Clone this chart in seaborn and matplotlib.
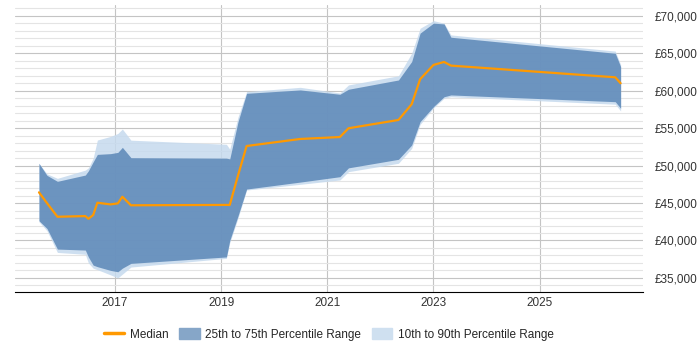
import pandas as pd
import numpy as np
import matplotlib
matplotlib.use("Agg")
import matplotlib.pyplot as plt
import matplotlib.dates as mdates
from matplotlib.ticker import MultipleLocator, FuncFormatter, FixedLocator
from matplotlib.patches import Patch
from matplotlib.lines import Line2D
import seaborn as sns

# dates where the series change direction
dates = ["2015-07-27", "2015-09-20", "2015-12-01", "2016-06-10", "2016-07-01",
         "2016-08-03", "2016-09-01", "2016-12-01", "2017-01-20", "2017-02-20",
         "2017-04-20", "2019-02-06", "2019-03-01", "2019-04-27", "2019-06-25",
         "2020-06-28", "2021-03-28", "2021-05-26", "2022-05-05", "2022-08-04",
         "2022-10-01", "2023-01-01", "2023-03-15", "2023-05-01", "2026-06-05",
         "2026-07-12"]

median = [46430, 45000, 43170, 43260, 42900, 43400, 45040, 44820, 44960, 45840,
          44700, 44750, 44750, 48700, 52620, 53560, 53820, 54990, 56100, 58200,
          61540, 63450, 63850, 63360, 61800, 61000]

p75 = [50300, 48700, 47900, 48740, 49300, 50500, 51500, 51600, 51770, 52440,
       51060, 51000, 50900, 55870, 59660, 60110, 59530, 60200, 61440, 63900,
       67700, 69030, 68930, 67150, 65010, 63220]

p90 = [50300, 48900, 48300, 49400, 49700, 51000, 53420, 53900, 54300, 54890,
       53400, 52850, 52200, 56500, 59880, 60460, 59700, 60780, 62000, 65010,
       68350, 69370, 69020, 67460, 65300, 63500]

p25 = [42640, 41600, 38850, 38720, 37800, 36710, 36500, 36000, 35820, 36300,
       36940, 37800, 40000, 43300, 46870, 47800, 48520, 49700, 50840, 52750,
       55870, 57880, 59200, 59440, 58540, 57660]

p10 = [42500, 41300, 38400, 38150, 37000, 36300, 36100, 35400, 35000, 35500,
       36450, 37610, 39700, 43000, 46740, 47500, 48080, 49190, 50310, 52300,
       55500, 57700, 59000, 59200, 58200, 57300]

year_ticks = ["2017-01-01", "2019-01-01", "2021-01-01", "2023-01-01", "2025-01-01"]

df = pd.DataFrame({"date": pd.to_datetime(dates), "median": median,
                   "p10": p10, "p25": p25, "p75": p75, "p90": p90})

sns.set_style("white")
plt.rcParams['font.family'] = ['Liberation Sans', 'DejaVu Sans']

fig = plt.figure(figsize=(7, 3.5), dpi=100)
ax = fig.add_axes([0.021, 0.166, 0.898, 0.82])

light = "#c6daee"
dark = "#5b87b7"
orange = "#ff9900"

ax.fill_between(df["date"], df["p10"], df["p90"], color=light, alpha=0.85, lw=0, zorder=1)
ax.fill_between(df["date"], df["p25"], df["p75"], color=dark, alpha=0.85, lw=0, zorder=1.2)
sns.lineplot(data=df, x="date", y="median", color=orange, lw=1.6, ax=ax, zorder=3)

ax.set_xlim(pd.Timestamp("2015-02-10"), pd.Timestamp("2026-12-15"))
ax.set_ylim(33130, 71470)

ax.yaxis.tick_right()
ax.yaxis.set_major_locator(MultipleLocator(5000))
ax.yaxis.set_minor_locator(MultipleLocator(1000))
ax.yaxis.set_major_formatter(FuncFormatter(lambda v, p: "£{:,.0f}".format(v)))
ax.xaxis.set_major_locator(FixedLocator(mdates.date2num(pd.to_datetime(year_ticks))))
ax.xaxis.set_major_formatter(mdates.DateFormatter("%Y"))

ax.set_axisbelow(True)
ax.grid(which="major", axis="y", color="#c4c4c4", lw=0.8)
ax.grid(which="minor", axis="y", color="#e4e4e4", lw=0.8)
ax.grid(which="major", axis="x", color="#c4c4c4", lw=0.8)
ax.tick_params(axis="both", which="both", length=0, labelsize=8.5, colors="#333333")
ax.tick_params(axis="y", pad=8)

for s in ["left", "right", "top"]:
    ax.spines[s].set_visible(False)
ax.spines["bottom"].set_color("black")
ax.set_xlabel("")
ax.set_ylabel("")

handles = [Line2D([0], [0], color=orange, lw=2.5),
           Patch(color="#86a6c8"),
           Patch(color="#cfe0f0")]
fig.legend(handles, ["Median", "25th to 75th Percentile Range", "10th to 90th Percentile Range"],
           loc="center", bbox_to_anchor=(0.47, 0.045), ncol=3, frameon=False,
           fontsize=8.5, handlelength=1.7, handleheight=1.1, handletextpad=0.5,
           columnspacing=0.9)

fig.savefig("out.png", dpi=100)
